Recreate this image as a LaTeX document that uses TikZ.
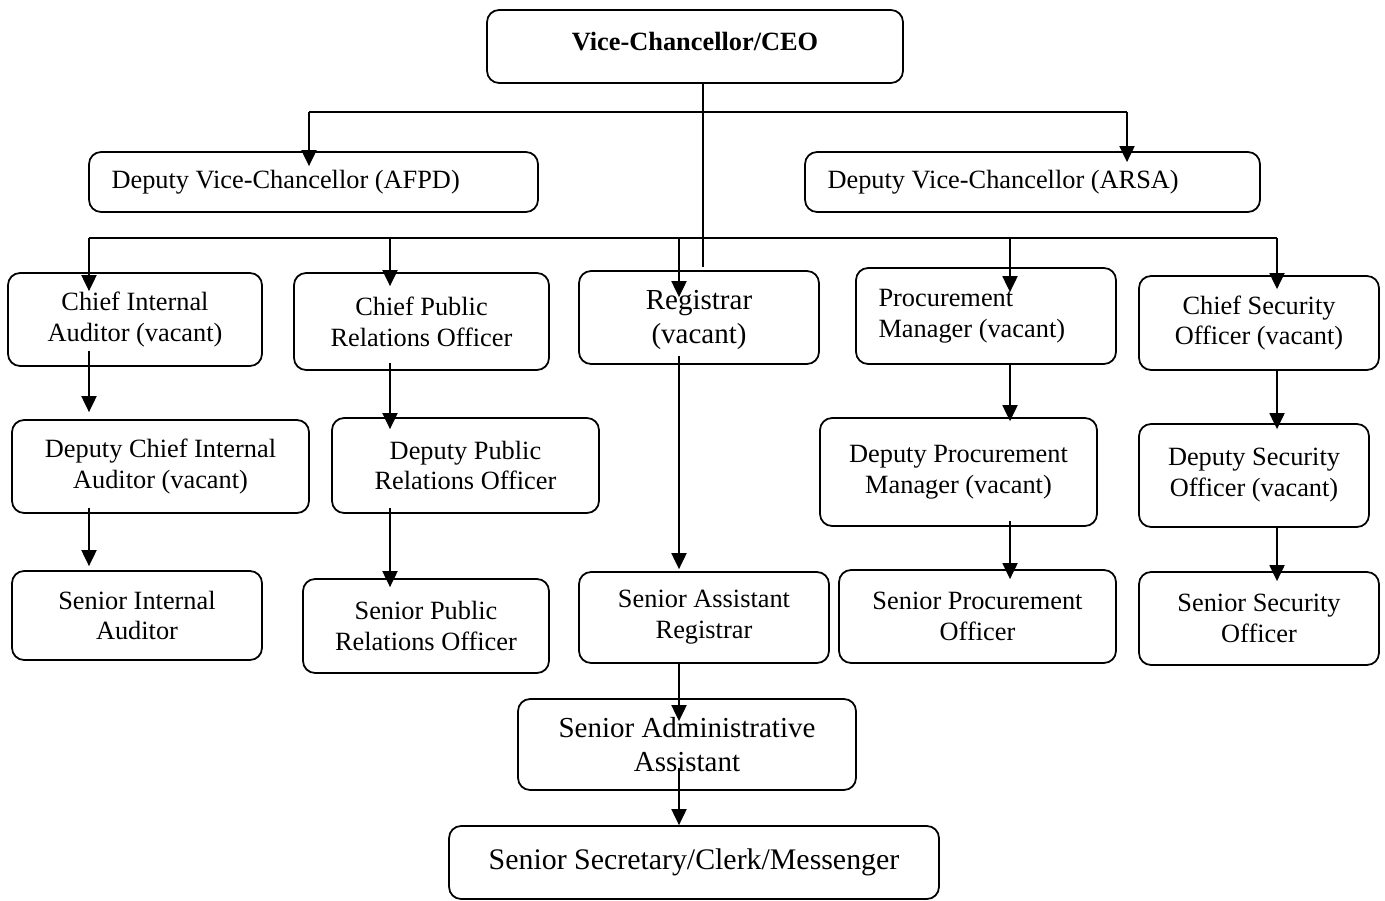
\documentclass[tikz,border=0pt]{standalone}
\usepackage{fontspec}
\setmainfont{Liberation Serif}
\usepackage{tikz}
\usetikzlibrary{arrows.meta, positioning, calc}
\tikzset{
	box/.style 2 args={rectangle, rounded corners=0.24cm, draw=black, line width=1pt, minimum width=#1, minimum height=#2, align=center, inner sep=2pt, font=\fontsize{15}{17.6}\selectfont},
	bigbox/.style 2 args={box={#1}{#2}, font=\fontsize{16.5}{19.5}\selectfont},
	leftbox/.style 2 args={box={#1}{#2}, text width=#1-0.9cm, align=flush left},
	ln/.style={line width=1.1pt},
	arr/.style={-{Triangle[length=0.32cm,width=0.3cm]}, line width=1.1pt},
}
\begin{document}
\begin{tikzpicture}[x=0.02cm, y=-0.02cm]
	\useasboundingbox (0,0) rectangle (1385,901);
	% top level
	\node[box={8.32cm}{1.46cm}, font=\fontsize{15}{17.6}\selectfont\bfseries, text depth=0.2cm] (vc) at (695,46.5) {Vice-Chancellor/CEO};
	\node[leftbox={8.98cm}{1.2cm}] (afpd) at (313.5,182) {Deputy Vice-Chancellor (AFPD)};
	\node[leftbox={9.10cm}{1.2cm}] (arsa) at (1032.5,182) {Deputy Vice-Chancellor (ARSA)};
	% heads of units
	\node[box={5.08cm}{1.86cm}] (cia) at (135,319.5) {Chief Internal\\Auditor (vacant)};
	\node[box={5.10cm}{1.94cm}] (cpro) at (421.5,321.5) {Chief Public\\Relations Officer};
	\node[bigbox={4.80cm}{1.86cm}] (reg) at (699,317.5) {\\[-0.2cm]Registrar\\(vacant)};
	\node[leftbox={5.20cm}{1.92cm}] (pm) at (986,316) {Procurement\\Manager (vacant)};
	\node[box={4.80cm}{1.88cm}] (cso) at (1259,323) {Chief Security\\Officer (vacant)};
	% deputies
	\node[box={5.94cm}{1.86cm}] (dcia) at (160.5,466.5) {Deputy Chief Internal\\Auditor (vacant)};
	\node[box={5.34cm}{1.90cm}] (dpro) at (465.5,465.5) {Deputy Public\\Relations Officer};
	\node[box={5.54cm}{2.16cm}] (dpm) at (958.5,472) {Deputy Procurement\\Manager (vacant)};
	\node[box={4.60cm}{2.06cm}] (dso) at (1254,475.5) {Deputy Security\\Officer (vacant)};
	% senior officers
	\node[box={5.00cm}{1.78cm}] (sia) at (137,615.5) {Senior Internal\\Auditor};
	\node[box={4.92cm}{1.88cm}] (spro) at (426,626) {Senior Public\\Relations Officer};
	\node[box={5.00cm}{1.82cm}] (sar) at (704,617.5) {Senior Assistant\\Registrar};
	\node[box={5.54cm}{1.86cm}] (spo) at (977.5,616.5) {Senior Procurement\\Officer};
	\node[box={4.80cm}{1.86cm}] (sso) at (1259,618.5) {Senior Security\\Officer};
	\node[bigbox={6.76cm}{1.82cm}] (saa) at (687,744.5) {Senior Administrative\\Assistant};
	\node[box={9.80cm}{1.46cm}, font=\fontsize{17}{20}\selectfont] (sscm) at (694,862.5) {Senior Secretary/Clerk/Messenger};
	% junction points
	\coordinate (tk) at (703,112);
	\coordinate (ta) at (309,112);
	\coordinate (tb) at (1127,112);
	\coordinate (c1) at (89,238);
	\coordinate (c2) at (390,238);
	\coordinate (c3) at (679,238);
	\coordinate (c4) at (1010,238);
	\coordinate (c5) at (1277,238);
	% from the Vice-Chancellor
	\draw[ln, shorten >=0.06cm] (vc.south -| tk) -- (reg.north -| tk);
	\draw[arr, shorten >=-0.3cm] (ta) -- (afpd.north -| ta);
	\draw[ln] (ta) -- (tb);
	\draw[arr, shorten >=-0.22cm] (tb) -- (arsa.north -| tb);
	% second bar
	\draw[ln] (c1) -- (c5);
	\draw[arr, shorten >=-0.38cm] (c1) -- (cia.north -| c1);
	\draw[arr, shorten >=-0.28cm] (c2) -- (cpro.north -| c2);
	\draw[arr, shorten >=-0.54cm] (c3) -- (reg.north -| c3);
	\draw[arr, shorten >=-0.5cm] (c4) -- (pm.north -| c4);
	\draw[arr, shorten >=-0.28cm] (c5) -- (cso.north -| c5);
	% columns
	\draw[arr, shorten <=-0.32cm, shorten >=0.14cm] (cia.south -| c1) -- (dcia.north -| c1);
	\draw[arr, shorten <=-0.12cm, shorten >=0.08cm] (dcia.south -| c1) -- (sia.north -| c1);
	\draw[arr, shorten <=-0.16cm, shorten >=-0.24cm] (cpro.south -| c2) -- (dpro.north -| c2);
	\draw[arr, shorten <=-0.12cm, shorten >=-0.18cm] (dpro.south -| c2) -- (spro.north -| c2);
	\draw[arr, shorten <=-0.18cm, shorten >=0.04cm] (reg.south -| c3) -- (sar.north -| c3);
	\draw[arr, shorten <=-0.04cm, shorten >=-0.46cm] (sar.south -| c3) -- (saa.north -| c3);
	\draw[arr, shorten <=-0.46cm] (saa.south -| c3) -- (sscm.north -| c3);
	\draw[arr, shorten <=-0.04cm, shorten >=-0.08cm] (pm.south -| c4) -- (dpm.north -| c4);
	\draw[arr, shorten <=-0.12cm, shorten >=-0.2cm] (dpm.south -| c4) -- (spo.north -| c4);
	\draw[arr, shorten >=-0.12cm] (cso.south -| c5) -- (dso.north -| c5);
	\draw[arr, shorten >=-0.2cm] (dso.south -| c5) -- (sso.north -| c5);
\end{tikzpicture}
\end{document}
